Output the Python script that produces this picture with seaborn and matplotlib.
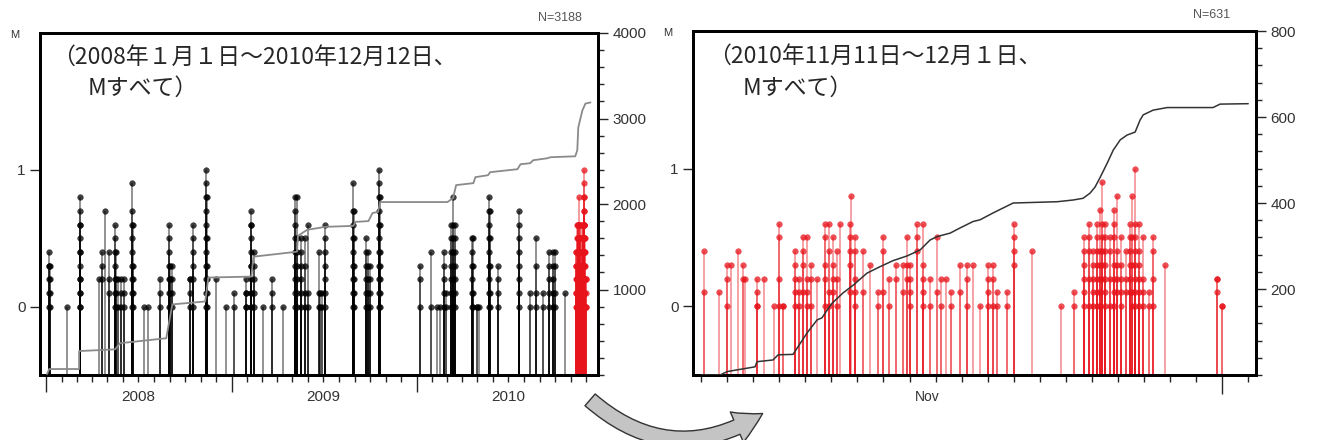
import numpy as np
import pandas as pd
import seaborn as sns
import matplotlib.pyplot as plt
import matplotlib.dates as mdates
from matplotlib.ticker import FixedLocator, MultipleLocator
from matplotlib.patches import FancyArrowPatch

# left panel: event groups 2008-01 .. 2010-10 (magnitudes of events on that date)
left_dates = ["2008-01-06", "2008-01-09", "2008-02-11", "2008-03-07", "2008-03-08", "2008-04-15",
              "2008-04-20", "2008-04-26", "2008-05-04", "2008-05-16", "2008-05-17", "2008-05-22",
              "2008-05-28", "2008-06-03", "2008-06-19", "2008-06-20", "2008-07-12", "2008-07-20",
              "2008-08-13", "2008-08-30", "2008-09-02", "2008-09-05", "2008-10-11", "2008-10-16",
              "2008-11-12", "2008-11-13", "2008-12-02", "2008-12-21", "2009-01-06", "2009-01-30",
              "2009-02-08", "2009-02-09", "2009-02-15", "2009-03-04", "2009-03-21", "2009-04-13",
              "2009-05-07", "2009-05-10", "2009-05-17", "2009-05-25", "2009-06-01", "2009-06-22",
              "2009-06-25", "2009-06-29", "2009-07-05", "2009-08-29", "2009-08-30", "2009-09-24",
              "2009-09-28", "2009-10-02", "2009-10-19", "2009-10-20", "2010-01-08", "2010-01-30",
              "2010-02-11", "2010-02-17", "2010-02-24", "2010-02-28", "2010-03-10", "2010-03-14",
              "2010-03-17", "2010-04-21", "2010-04-22", "2010-04-30", "2010-05-04", "2010-05-24",
              "2010-05-25", "2010-06-11", "2010-07-23", "2010-08-13", "2010-08-25", "2010-09-08",
              "2010-09-20", "2010-09-27", "2010-10-01", "2010-10-20"]
left_mags = [[0, 0.1, 0.2, 0.3, 0.3, 0.4], [0, 0.1, 0.2, 0.3], [0],
             [0, 0.1, 0.2, 0.3, 0.4, 0.5, 0.6, 0.7, 0.8], [0, 0.1, 0.2, 0.4, 0.6], [0.2],
             [0.4, 0.3, 0.2], [0.7], [0.4, 0.2, 0.1],
             [0, 0.1, 0.2, 0.3, 0.4, 0.5, 0.6], [0, 0.1, 0.2, 0.4], [0.2, 0],
             [0.2, 0.1, 0], [0.2, 0.1, 0], [0, 0.1, 0.2, 0.3, 0.4, 0.5, 0.6, 0.7, 0.9],
             [0, 0.1, 0.2, 0.3, 0.6], [0], [0],
             [0.2, 0.1, 0], [0, 0.1, 0.2, 0.3, 0.4, 0.5, 0.6], [0, 0.1, 0.2, 0.3, 0.2],
             [0, 0.1, 0.2, 0.3], [0, 0.1, 0.2, 0.2], [0, 0.2, 0.3, 0.4, 0.5, 0.6],
             [0, 0.1, 0.2, 0.3, 0.4, 0.5, 0.6, 0.7, 0.8, 0.9, 1.0], [0, 0.1, 0.2, 0.3, 0.5, 0.8],
             [0.2], [0], [0.1, 0], [0.2, 0.1, 0, 0.1, 0],
             [0, 0.1, 0.2, 0.3, 0.4, 0.5, 0.6, 0.7], [0, 0.1, 0.3, 0.6],
             [0.4, 0.3, 0.2, 0.1, 0], [0], [0.2, 0.1, 0], [0],
             [0, 0.1, 0.2, 0.3, 0.4, 0.5, 0.6, 0.7, 0.8], [0, 0.1, 0.2, 0.3, 0.4, 0.5, 0.8],
             [0.5, 0.4, 0.3, 0.2, 0.1, 0], [0.5, 0.3, 0.1, 0], [0.6, 0.1, 0], [0.4, 0.1, 0],
             [0.1, 0], [0.1, 0], [0.6, 0.5, 0.4, 0.3, 0.2, 0.1, 0],
             [0, 0.1, 0.2, 0.3, 0.4, 0.5, 0.6, 0.7, 0.9], [0, 0.1, 0.2, 0.3, 0.5, 0.7],
             [0, 0.1, 0.2, 0.3, 0.4, 0.5], [0, 0.1, 0.2, 0.3, 0.4], [0, 0.1, 0.2, 0.3],
             [0, 0.1, 0.2, 0.3, 0.4, 0.5, 0.6, 0.7, 0.8, 0.9, 1.0], [0, 0.1, 0.2, 0.3, 0.4, 0.6, 0.8],
             [0.3, 0.2, 0], [0.4, 0], [0], [0], [0.4, 0.3, 0.2, 0.1, 0], [0, 0.1],
             [0, 0.1, 0.2, 0.3, 0.4, 0.5, 0.6], [0, 0.1, 0.2, 0.3, 0.4, 0.5, 0.6, 0.8],
             [0, 0.1, 0.2, 0.3, 0.4, 0.5, 0.6], [0, 0.1, 0.2, 0.3, 0.4, 0.5], [0, 0.1, 0.3, 0.5],
             [0, 0], [0], [0, 0.1, 0.2, 0.3, 0.4, 0.5, 0.6, 0.7, 0.8], [0, 0.1, 0.3, 0.5, 0.7],
             [0.3, 0.2, 0.1, 0], [0.7, 0.6, 0.5, 0.4, 0.3, 0.2, 0.1, 0], [0.1, 0],
             [0.5, 0.3, 0.1, 0], [0.1, 0], [0.4, 0.3, 0.2, 0.1, 0], [0.4, 0.3, 0.2, 0.1, 0],
             [0.4, 0.3, 0.1, 0], [0.1]]

# right panel: 2010-11-11 .. 12-01, time as day of November (31 = Dec 1)
right_days = [11.1, 11.7, 12.0, 12.15, 12.4, 12.6, 12.7, 13.15, 13.4, 13.8, 14.0, 14.15, 14.6,
              14.75, 14.9, 15.05, 15.2, 15.45, 15.75, 15.9, 16.05, 16.2, 16.35, 16.7, 16.76,
              16.9, 17.2, 17.5, 17.8, 18.0, 18.2, 18.5, 18.75, 18.9, 19.0, 19.3, 19.5, 19.8,
              20.05, 20.2, 20.4, 20.6, 20.95, 21.2, 21.45, 21.7, 22.0, 22.2, 22.35, 22.75, 23.0,
              23.7, 24.8, 25.3, 25.7, 25.9, 26.05, 26.2, 26.3, 26.4, 26.5, 26.7, 26.85, 26.95,
              27.1, 27.3, 27.45, 27.55, 27.65, 27.8, 27.95, 28.2, 28.35, 28.8, 30.8, 31.0]
right_mags = [[0.4, 0.1], [0.1], [0.3, 0.2, 0], [0.3], [0.4], [0.2, 0.3], [0.2],
              [0.2, 0.1, 0, 0], [0.2], [0], [0.6, 0.5, 0.2, 0], [0, 0], [0.4, 0.3, 0.2, 0.1, 0],
              [0.1, 0, 0.2], [0.5, 0.4, 0.3, 0.1], [0.5, 0.2, 0.1, 0], [0.3, 0.2, 0], [0.2],
              [0.6, 0.5, 0.3, 0.2, 0], [0.6, 0.4, 0.1, 0], [0.5, 0.3, 0.2, 0.1], [0.4, 0.2, 0],
              [0.6], [0.6, 0.5, 0.4, 0.3, 0.1], [0.8],
              [0.5, 0.4, 0.2, 0.1, 0], [0.4, 0.1], [0.3], [0.1, 0], [0.5, 0.4, 0.1], [0.2, 0],
              [0.3, 0.2], [0.3, 0.1], [0.5, 0.3, 0.2], [0.3, 0.2, 0.1, 0], [0.6, 0.5, 0.4],
              [0.6, 0.3, 0.2, 0.1, 0], [0, 0.2],
              [0.5, 0.1], [0.2, 0], [0.2], [0, 0.1], [0.3, 0.1], [0.3, 0.2, 0], [0.3], [0],
              [0.3, 0.2, 0.1, 0], [0.3, 0.2, 0], [0, 0.1], [0.1, 0], [0.6, 0.5, 0.4, 0.3],
              [0.4], [0], [0.1, 0], [0.5, 0.4, 0.3, 0.2, 0.1, 0], [0.6, 0.5, 0.4, 0.2, 0],
              [0.4, 0.3, 0.2, 0.1, 0], [0.6, 0.5, 0.4, 0.3, 0.2, 0.1, 0],
              [0.7, 0.4, 0.3, 0.2, 0.1, 0], [0.9, 0.6, 0.5, 0.4, 0.3, 0.2],
              [0.6, 0.5, 0.4, 0.3, 0.2, 0.1, 0], [0.5, 0.4, 0.2, 0],
              [0.7, 0.6, 0.5, 0.3, 0.2, 0.1, 0], [0.8, 0.4, 0.3, 0.2, 0.1],
              [0.5, 0.3, 0.2, 0.1, 0], [0.4, 0.2, 0.1], [0.6, 0.5, 0.4, 0.3, 0.2, 0.1],
              [0.8, 0.5, 0.3, 0.1, 0], [1.0, 0.6, 0.5, 0.4, 0.3, 0.2, 0.1, 0],
              [0.6, 0.4, 0.3, 0.2, 0.1, 0], [0.5, 0.2, 0.1, 0], [0.1, 0], [0.5, 0.4, 0.2, 0],
              [0.3], [0.2, 0.2, 0.1], [0, 0]]

# cumulative number of events (all M)
left_cum_dates = ["2008-01-03", "2008-01-07", "2008-03-06", "2008-03-06", "2008-05-16", "2008-05-26",
                  "2008-08-25", "2008-09-06", "2008-11-10", "2008-11-16", "2009-02-09", "2009-02-13",
                  "2009-05-10", "2009-05-12", "2009-05-30", "2009-07-05", "2009-08-29", "2009-09-02",
                  "2009-09-28", "2009-10-06", "2009-10-17", "2009-10-21", "2010-03-03", "2010-03-14",
                  "2010-03-20", "2010-04-23", "2010-04-27", "2010-05-22", "2010-05-26", "2010-07-19",
                  "2010-07-25", "2010-08-13", "2010-08-19", "2010-09-16", "2010-09-22", "2010-11-10",
                  "2010-11-14", "2010-11-16", "2010-11-24", "2010-11-30", "2010-12-10"]
left_cum_n = [12, 70, 70, 280, 300, 372, 430, 826, 860, 1140, 1151, 1384, 1442, 1628, 1698, 1733,
              1744, 1791, 1800, 1895, 1907, 2023, 2023, 2070, 2221, 2244, 2314, 2337, 2372, 2407,
              2465, 2477, 2512, 2535, 2547, 2558, 2628, 2895, 3093, 3174, 3188]
right_cum_days = [11.0, 11.73, 12.0, 13.07, 13.15, 13.76, 13.96, 14.53, 14.69, 15.07, 15.45, 15.64,
                  15.84, 16.03, 16.45, 16.84, 17.37, 17.87, 18.37, 18.91, 19.41, 19.79, 20.06,
                  20.56, 20.94, 21.44, 21.71, 22.21, 22.98, 24.67, 25.28, 25.66, 25.93, 26.12,
                  26.32, 26.59, 26.82, 27.09, 27.35, 27.66, 27.85, 27.97, 28.35, 28.89, 30.65,
                  30.92, 32.0]
right_cum_n = [0, 0, 8, 19, 31, 35, 47, 48, 63, 98, 128, 133, 151, 167, 191, 209, 237, 252, 266,
               277, 291, 314, 322, 330, 342, 357, 361, 377, 400, 403, 407, 411, 423, 437, 460, 493,
               523, 547, 558, 565, 593, 605, 616, 622, 622, 630, 631]

RED = "#e8141c"


def nov(days):
    t = pd.Timestamp("2010-11-01") + pd.to_timedelta(np.asarray(days) - 1, unit="D")
    return mdates.date2num(t)


def explode(times, mags):
    rows = [(t, m) for t, ms in zip(times, mags) for m in ms]
    return pd.DataFrame(rows, columns=["t", "M"])


left_ev = explode(mdates.date2num(pd.to_datetime(left_dates)), left_mags)
right_ev = explode(nov(right_days), right_mags)
left_cum = pd.DataFrame({"t": mdates.date2num(pd.to_datetime(left_cum_dates)), "n": left_cum_n})
right_cum = pd.DataFrame({"t": nov(right_cum_days), "n": right_cum_n})

sns.set_style("ticks")
plt.rcParams["font.family"] = ["Liberation Sans", "Noto Sans CJK JP", "DejaVu Sans"]
plt.rcParams["xtick.direction"] = "out"
plt.rcParams["ytick.direction"] = "out"

fig = plt.figure(figsize=(13.17, 4.4), dpi=100)
axL = fig.add_axes([0.0304, 0.1477, 0.4237, 0.7773])
axR = fig.add_axes([0.5262, 0.1477, 0.4275, 0.7818])


def stems(ax, df, color, alpha, lw):
    ax.vlines(df["t"], -0.5, df["M"], colors=color, lw=lw, alpha=alpha, zorder=2)
    sns.scatterplot(data=df, x="t", y="M", ax=ax, s=17, color=color, edgecolor=color,
                    linewidth=0.3, alpha=min(1, alpha + 0.25), legend=False, zorder=3)


stems(axL, left_ev, "black", 0.5, 1.2)
stems(axL, right_ev, RED, 0.5, 1.2)
stems(axR, right_ev, RED, 0.5, 1.1)

for ax in (axL, axR):
    ax.set_ylim(-0.5, 2.0)
    ax.set_yticks([0, 1])
    ax.set_yticklabels(["0", "1"], fontsize=11, color="#333")
    ax.tick_params(axis="y", length=7, width=1)
    ax.set_xlabel("")
    ax.set_ylabel("")
    for s in ax.spines.values():
        s.set_linewidth(2)
        s.set_color("black")

# left x axis: months / years
axL.set_xlim(mdates.date2num(pd.Timestamp("2007-12-20")), mdates.date2num(pd.Timestamp("2010-12-25")))
axL.xaxis.set_major_locator(mdates.YearLocator())
axL.xaxis.set_minor_locator(mdates.MonthLocator())
axL.set_xticklabels([])
axL.tick_params(axis="x", which="major", length=12, width=1, labelbottom=False)
axL.tick_params(axis="x", which="minor", length=5, width=1)
for yr in ["2008", "2009", "2010"]:
    axL.text(mdates.date2num(pd.Timestamp(yr + "-07-01")), -0.064, yr, fontsize=11, color="#333",
             ha="center", va="center", transform=axL.get_xaxis_transform())

# right x axis: days / month
axR.set_xlim(nov(10.69), nov(32.3))
axR.xaxis.set_major_locator(mdates.MonthLocator())
axR.xaxis.set_minor_locator(mdates.DayLocator())
axR.tick_params(axis="x", which="major", length=14, width=1, labelbottom=False)
axR.tick_params(axis="x", which="minor", length=5, width=1)
axR.text(nov(19.7), -0.064, "Nov", fontsize=10, color="#333", ha="center", va="center",
         transform=axR.get_xaxis_transform())

# cumulative counts on twin axes
for ax, cum, top, step, color, lw in [(axL, left_cum, 4000, 1000, "#8a8a8a", 1.3),
                                      (axR, right_cum, 800, 200, "#333333", 1.1)]:
    tw = ax.twinx()
    sns.lineplot(data=cum, x="t", y="n", ax=tw, color=color, lw=lw, sort=False,
                 estimator=None, zorder=4)
    tw.set_ylim(0, top)
    tw.yaxis.set_major_locator(FixedLocator(np.arange(step, top + 1, step)))
    tw.yaxis.set_minor_locator(MultipleLocator(step / 5))
    tw.tick_params(axis="y", which="major", length=7, width=1, labelsize=11, labelcolor="#333")
    tw.tick_params(axis="y", which="minor", length=4, width=1)
    tw.set_ylabel("")
    tw.set_xlabel("")
    for s in tw.spines.values():
        s.set_linewidth(2)
        s.set_color("black")

# annotation texts
cjk = ["Noto Sans CJK JP", "DejaVu Sans"]
axL.text(0.0215, 0.930, "（2008年１月１日～2010年12月12日、", transform=axL.transAxes,
         fontsize=16.5, family=cjk, va="center", ha="left", zorder=6)
axL.text(0.086, 0.839, "Mすべて）", transform=axL.transAxes,
         fontsize=16.5, family=cjk, va="center", ha="left", zorder=6)
axR.text(0.0266, 0.927, "（2010年11月11日～12月１日、", transform=axR.transAxes,
         fontsize=16.5, family=cjk, va="center", ha="left", zorder=6)
axR.text(0.0888, 0.834, "Mすべて）", transform=axR.transAxes,
         fontsize=16.5, family=cjk, va="center", ha="left", zorder=6)

fig.text(0.0114, 0.920, "M", fontsize=8, color="#333", ha="center", va="center")
fig.text(0.507, 0.925, "M", fontsize=8, color="#333", ha="center", va="center")
fig.text(0.425, 0.959, "N=3188", fontsize=9, color="#555", ha="center", va="center")
fig.text(0.920, 0.966, "N=631", fontsize=9, color="#555", ha="center", va="center")

# curved arrow between the panels
arrow = FancyArrowPatch((588 / 1317, 1 - 398 / 440), (765 / 1317, 1 - 412 / 440),
                        transform=fig.transFigure, connectionstyle="arc3,rad=0.38",
                        arrowstyle="simple,head_width=1.7,head_length=1.5,tail_width=0.8",
                        mutation_scale=14, facecolor="#c4c4c4", edgecolor="#333", lw=1,
                        clip_on=False)
fig.add_artist(arrow)

fig.savefig("out.png", dpi=100)
